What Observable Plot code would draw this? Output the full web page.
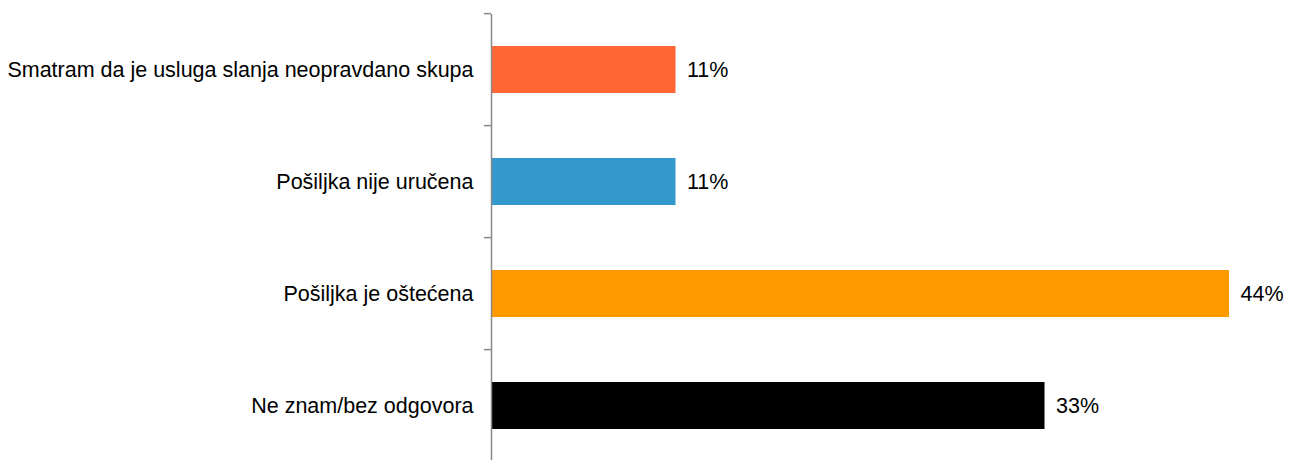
<!DOCTYPE html>
<html>
<head>
<meta charset="utf-8">
<script src="https://cdn.jsdelivr.net/npm/d3@7"></script>
<script src="https://cdn.jsdelivr.net/npm/@observablehq/plot@0.6"></script>
<style>
  body { margin: 0; background: #fff; }
  #chart svg { display: block; }
</style>
</head>
<body>
<div id="chart"></div>
<script>
const categories = [
  "Smatram da je usluga slanja neopravdano skupa",
  "Pošiljka nije uručena",
  "Pošiljka je oštećena",
  "Ne znam/bez odgovora"
];
const values = [11, 11, 44, 33];
const colors = ["#FF6633", "#3399CC", "#FF9900", "#000000"];

const data = categories.map((c, i) => ({category: c, value: values[i], color: colors[i]}));

const yRange = [14, 465];
const step = (yRange[1] - yRange[0]) / categories.length;

const chart = Plot.plot({
  width: 1291,
  height: 460,
  marginTop: 14,
  marginBottom: 0,
  marginLeft: 491,
  marginRight: 62,
  style: {fontFamily: "'Liberation Sans', Arial, sans-serif", fontSize: "21.5px", color: "#000"},
  x: {domain: [0, 44], range: [491, 1229], axis: null},
  y: {domain: categories, range: yRange, padding: 0.583, paddingOuter: 0.2915, align: 0.47, axis: null, label: null},
  marks: [
    Plot.barX(data, {x: "value", y: "category", fill: "color"}),
    Plot.ruleX([0], {stroke: "#898989", strokeWidth: 1.5}),
    Plot.axisY({tickSize: 0, tickPadding: 18, fontSize: 21.5, fill: "#000", label: null}),
    Plot.axisY({tickSize: 7, tickFormat: () => "", stroke: "#898989", strokeWidth: 1.5, dy: -step / 2, label: null}),
    Plot.text(data, {x: "value", y: "category", text: d => d.value + "%", textAnchor: "start", dx: 11, fontSize: 21.5, fill: "#000"})
  ]
});
document.getElementById("chart").appendChild(chart);
</script>
</body>
</html>
